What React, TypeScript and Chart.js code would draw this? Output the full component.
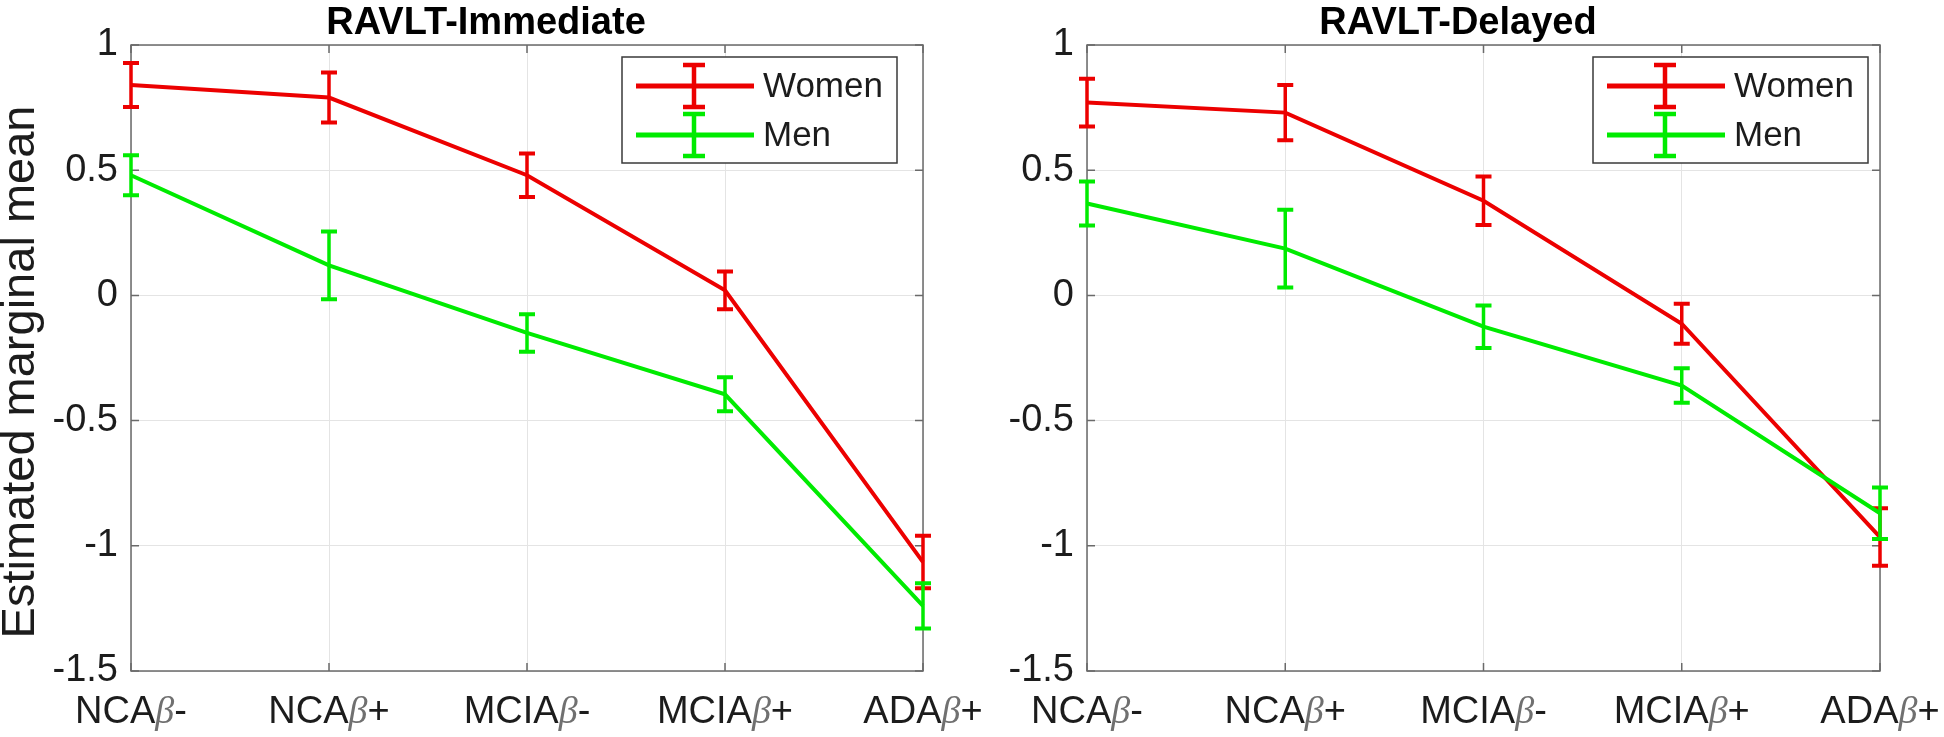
import React, { useEffect, useRef } from 'react';
import { Chart, registerables } from 'chart.js';

Chart.register(...registerables);

// ---- data ----
const categories = ['NCAβ-', 'NCAβ+', 'MCIAβ-', 'MCIAβ+', 'ADAβ+'];
const yTicks = [1, 0.5, 0, -0.5, -1, -1.5];
const seriesNames = ['Women', 'Men'];

const immediateWomen = [0.84, 0.79, 0.48, 0.02, -1.065];
const immediateWomenErr = [0.088, 0.1, 0.087, 0.075, 0.105];
const immediateMen = [0.48, 0.12, -0.15, -0.395, -1.24];
const immediateMenErr = [0.08, 0.135, 0.075, 0.068, 0.09];

const delayedWomen = [0.77, 0.73, 0.378, -0.113, -0.965];
const delayedWomenErr = [0.095, 0.11, 0.097, 0.08, 0.115];
const delayedMen = [0.367, 0.187, -0.125, -0.36, -0.87];
const delayedMenErr = [0.088, 0.155, 0.085, 0.069, 0.103];

// ---- style ----
const RED = 'rgb(236,0,0)';
const GREEN = 'rgb(0,235,0)';
const GRID = '#e4e4e4';
const AXIS = '#6a6a6a';
const TEXT = '#1c1c1c';
const SANS = "'Liberation Sans', Arial, sans-serif";
const SERIF = "'Liberation Serif', serif";
const W = 1944;
const H = 737;

const errorBarPlugin = {
  id: 'errorBars',
  afterDatasetDraw(chart: any, args: any) {
    const ds: any = chart.data.datasets[args.index];
    const errs: number[] = ds.errors;
    if (!errs) return;
    const ys = chart.scales.y;
    const ctx = chart.ctx;
    ctx.save();
    ctx.strokeStyle = ds.borderColor;
    args.meta.data.forEach((pt: any, i: number) => {
      const v = ds.data[i];
      const e = errs[i];
      const x = pt.x;
      const yt = ys.getPixelForValue(v + e);
      const yb = ys.getPixelForValue(v - e);
      ctx.lineWidth = 3.5;
      ctx.beginPath();
      ctx.moveTo(x, yt);
      ctx.lineTo(x, yb);
      ctx.stroke();
      ctx.lineWidth = 4;
      ctx.beginPath();
      ctx.moveTo(x - 8, yt);
      ctx.lineTo(x + 8, yt);
      ctx.moveTo(x - 8, yb);
      ctx.lineTo(x + 8, yb);
      ctx.stroke();
    });
    ctx.restore();
  },
};

const framePlugin = {
  id: 'frame',
  beforeDatasetsDraw(chart: any) {
    const { ctx, chartArea: ca } = chart;
    const xs = chart.scales.x;
    const ys = chart.scales.y;
    ctx.save();
    ctx.strokeStyle = AXIS;
    ctx.lineWidth = 1.5;
    ctx.strokeRect(ca.left, ca.top, ca.right - ca.left, ca.bottom - ca.top);
    const tl = 8;
    ctx.beginPath();
    xs.ticks.forEach((_t: any, i: number) => {
      const x = xs.getPixelForTick(i);
      ctx.moveTo(x, ca.bottom);
      ctx.lineTo(x, ca.bottom - tl);
      ctx.moveTo(x, ca.top);
      ctx.lineTo(x, ca.top + tl);
    });
    ys.ticks.forEach((_t: any, i: number) => {
      const y = ys.getPixelForTick(i);
      ctx.moveTo(ca.left, y);
      ctx.lineTo(ca.left + tl, y);
      ctx.moveTo(ca.right, y);
      ctx.lineTo(ca.right - tl, y);
    });
    ctx.stroke();
    ctx.restore();
  },
};

const textPlugin = {
  id: 'texts',
  afterDraw(chart: any) {
    const { ctx, chartArea: ca } = chart;
    const o = chart.options.plugins.texts;
    const xs = chart.scales.x;
    ctx.save();
    // title
    ctx.fillStyle = '#000';
    ctx.font = `bold 38px ${SANS}`;
    ctx.textAlign = 'center';
    ctx.textBaseline = 'alphabetic';
    ctx.fillText(o.title, o.titleX, 34);

    // x tick labels with italic beta
    const normal = `38px ${SANS}`;
    const ital = `italic 38px ${SERIF}`;
    ctx.textAlign = 'left';
    (chart.data.labels as string[]).forEach((lab: string, i: number) => {
      const parts = lab.split('β');
      ctx.font = normal;
      const w1 = ctx.measureText(parts[0]).width;
      const w3 = ctx.measureText(parts[1]).width;
      ctx.font = ital;
      const w2 = ctx.measureText('β').width;
      const x = xs.getPixelForTick(i);
      let cx = x - (w1 + w2 + w3) / 2;
      const by = ca.bottom + 52;
      ctx.font = normal;
      ctx.fillStyle = TEXT;
      ctx.fillText(parts[0], cx, by);
      cx += w1;
      ctx.font = ital;
      ctx.fillStyle = '#707070';
      ctx.fillText('β', cx, by);
      cx += w2;
      ctx.font = normal;
      ctx.fillStyle = TEXT;
      ctx.fillText(parts[1], cx, by);
    });

    // y axis label
    if (o.yLabel) {
      ctx.save();
      ctx.translate(21, 372);
      ctx.rotate(-Math.PI / 2);
      ctx.font = `47px ${SANS}`;
      ctx.fillStyle = TEXT;
      ctx.textAlign = 'center';
      ctx.textBaseline = 'middle';
      ctx.fillText(o.yLabel, 0, 0);
      ctx.restore();
    }

    // legend
    const w = 275;
    const h = 106;
    const bx = ca.right - o.legendRight - w;
    const by = ca.top + 12;
    ctx.fillStyle = '#fff';
    ctx.fillRect(bx, by, w, h);
    ctx.strokeStyle = '#3a3a3a';
    ctx.lineWidth = 1.5;
    ctx.strokeRect(bx, by, w, h);
    chart.data.datasets.forEach((ds: any, k: number) => {
      const ry = by + (k === 0 ? 29 : 78);
      ctx.strokeStyle = ds.borderColor;
      ctx.lineWidth = 5;
      ctx.beginPath();
      ctx.moveTo(bx + 14, ry);
      ctx.lineTo(bx + 132, ry);
      ctx.stroke();
      ctx.lineWidth = 4.5;
      ctx.beginPath();
      ctx.moveTo(bx + 72, ry - 21);
      ctx.lineTo(bx + 72, ry + 21);
      ctx.moveTo(bx + 61, ry - 21);
      ctx.lineTo(bx + 83, ry - 21);
      ctx.moveTo(bx + 61, ry + 21);
      ctx.lineTo(bx + 83, ry + 21);
      ctx.stroke();
      ctx.fillStyle = TEXT;
      ctx.font = `35px ${SANS}`;
      ctx.textAlign = 'left';
      ctx.textBaseline = 'middle';
      ctx.fillText(ds.label, bx + 141, ry + 1);
    });
    ctx.restore();
  },
};

function makeConfig(
  title: string,
  titleX: number,
  women: number[],
  womenErr: number[],
  men: number[],
  menErr: number[],
  yWidth: number,
  padLeft: number,
  padRight: number,
  legendRight: number,
  yLabel: string
): any {
  return {
    type: 'line',
    data: {
      labels: categories,
      datasets: [
        {
          label: seriesNames[0],
          data: women,
          errors: womenErr,
          borderColor: RED,
          backgroundColor: RED,
          borderWidth: 4,
          pointRadius: 0,
          tension: 0,
          order: 2,
        },
        {
          label: seriesNames[1],
          data: men,
          errors: menErr,
          borderColor: GREEN,
          backgroundColor: GREEN,
          borderWidth: 4,
          pointRadius: 0,
          tension: 0,
          order: 1,
        },
      ],
    },
    options: {
      responsive: false,
      animation: false,
      devicePixelRatio: 1,
      events: [],
      layout: { padding: { left: padLeft, right: padRight, top: 45, bottom: 0 } },
      plugins: {
        legend: { display: false },
        tooltip: { enabled: false },
        title: { display: false },
        texts: { title, titleX, yLabel, legendRight },
      },
      scales: {
        x: {
          type: 'category',
          offset: false,
          grid: { color: GRID, lineWidth: 1, drawTicks: false },
          border: { display: false },
          ticks: { display: false },
          afterFit: (s: any) => {
            s.height = 66;
          },
        },
        y: {
          min: -1.5,
          max: 1,
          afterBuildTicks: (s: any) => {
            s.ticks = yTicks.map((v) => ({ value: v }));
          },
          grid: { color: GRID, lineWidth: 1, drawTicks: false },
          border: { display: false },
          ticks: {
            padding: 13,
            color: TEXT,
            font: { family: SANS, size: 38 },
            callback: (v: any) => String(v),
          },
          afterFit: (s: any) => {
            s.width = yWidth;
          },
        },
      },
    },
    plugins: [framePlugin, errorBarPlugin, textPlugin],
  };
}

function Panel(props: { cfg: () => any }) {
  const ref = useRef<HTMLCanvasElement>(null);
  useEffect(() => {
    if (!ref.current) return;
    const chart = new Chart(ref.current, props.cfg());
    return () => chart.destroy();
  }, []);
  return (
    <canvas
      ref={ref}
      width={W}
      height={H}
      style={{ position: 'absolute', left: 0, top: 0, width: W, height: H }}
    />
  );
}

export default function App() {
  return (
    <div style={{ position: 'absolute', left: 0, top: 0, width: W, height: H, background: '#fff' }}>
      <Panel
        cfg={() =>
          makeConfig('RAVLT-Immediate', 486, immediateWomen, immediateWomenErr, immediateMen, immediateMenErr, 131, 0, 1021, 26, 'Estimated marginal mean')
        }
      />
      <Panel
        cfg={() =>
          makeConfig('RAVLT-Delayed', 1458, delayedWomen, delayedWomenErr, delayedMen, delayedMenErr, 115, 972, 64, 12, '')
        }
      />
    </div>
  );
}
